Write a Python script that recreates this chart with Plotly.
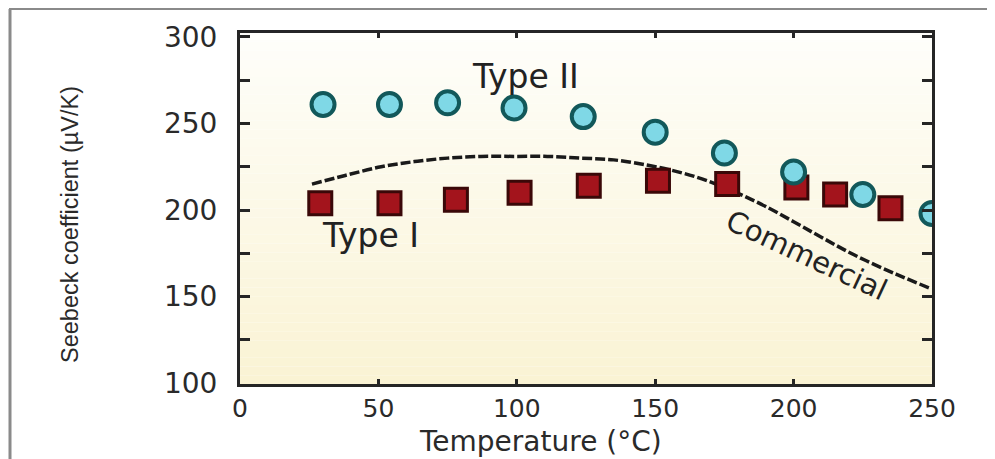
import plotly.graph_objects as go

# ---- data ----
type2_temp = [30, 54, 75, 99, 124, 150, 175, 200, 225, 250]
type2_seebeck = [261, 261, 262, 259, 254, 245, 233, 222, 209, 198]

type1_temp = [29, 54, 78, 101, 126, 151, 176, 201, 215, 235]
type1_seebeck = [204, 204, 206, 210, 214, 217, 215, 213, 209, 201]

commercial_temp = [26, 38, 51, 63, 75, 87, 99, 111, 123, 135, 147, 156, 165, 172, 178, 190, 207, 222, 237, 249]
commercial_seebeck = [215, 220, 225, 228, 230, 231, 231, 231, 230, 229, 226, 223, 219, 215, 211, 202, 187, 174, 163, 155]

x_ticks = [0, 50, 100, 150, 200, 250]
y_ticks = [100, 150, 200, 250, 300]

# page body has an 8px margin; plot area spans screen x 240..932, y 33..384
OFF = 8
PL, PR, PT, PB = 240, 932, 33, 384
PW, PH = PR - PL, PB - PT


def px(sx):
    return (sx - PL) / PW


def py(sy):
    return (PB - sy) / PH


fig = go.Figure()

# gradient plot background (white -> cream)
n = 40
top = (254, 254, 250)
bot = (250, 243, 212)
for i in range(n):
    f = i / (n - 1)
    c = tuple(round(top[k] + (bot[k] - top[k]) * f) for k in range(3))
    fig.add_shape(type="rect", xref="x domain", yref="y domain",
                  x0=0, x1=1, y0=1 - (i + 1) / n, y1=1 - i / n,
                  fillcolor="rgb(%d,%d,%d)" % c, line=dict(width=0), layer="below")

fig.add_trace(go.Scatter(
    x=commercial_temp, y=commercial_seebeck, mode="lines",
    line=dict(color="#1a1a1a", width=3.5, dash="10px,3px", shape="spline"),
    showlegend=False, hoverinfo="skip"))

fig.add_trace(go.Scatter(
    x=type1_temp, y=type1_seebeck, mode="markers",
    marker=dict(symbol="square", size=23, color="#a3141c",
                line=dict(color="#3a0808", width=3)),
    showlegend=False))

fig.add_trace(go.Scatter(
    x=type2_temp, y=type2_seebeck, mode="markers",
    marker=dict(symbol="circle", size=23, color="#7fd8e6",
                line=dict(color="#12585a", width=4)),
    showlegend=False))

tick_font = dict(family="DejaVu Sans", size=28, color="#2a2a2a")
xtick_font = dict(family="DejaVu Sans", size=25, color="#2a2a2a")
lab_font = dict(family="DejaVu Sans", size=33, color="#222222")

fig.update_xaxes(range=[0, 250], tickvals=x_ticks, ticktext=[str(v) for v in x_ticks],
                 showline=True, linewidth=3, linecolor="#252525", mirror="ticks",
                 ticks="inside", ticklen=5, tickwidth=3, tickcolor="#252525",
                 showgrid=False, zeroline=False, tickfont=xtick_font, ticklabelstandoff=0)
fig.update_yaxes(range=[99.5, 302.3], tickvals=y_ticks, ticktext=[str(v) for v in y_ticks],
                 showline=True, linewidth=3, linecolor="#252525", mirror="ticks",
                 ticks="inside", ticklen=10, tickwidth=3, tickcolor="#252525",
                 minor=dict(dtick=25, tick0=0, ticks="inside", ticklen=10, tickwidth=3,
                            tickcolor="#252525", showgrid=False),
                 showgrid=False, zeroline=False, tickfont=tick_font, ticklabelstandoff=14)

annos = [
    dict(text="Type II", x=103, y=277, xref="x", yref="y", showarrow=False, font=lab_font),
    dict(text="Type I", x=47, y=185.5, xref="x", yref="y", showarrow=False, font=lab_font),
    dict(text="Commercial", x=204.5, y=174, xref="x", yref="y", showarrow=False,
         textangle=25, font=dict(family="DejaVu Sans", size=29, color="#222222")),
    dict(text="Temperature (°C)", x=px(540), y=py(441),
         xref="paper", yref="paper", showarrow=False, yanchor="middle",
         font=dict(family="DejaVu Sans", size=28, color="#2a2a2a")),
    dict(text="Seebeck coefficient (µV/K)", x=px(70), y=py(225),
         xref="paper", yref="paper", showarrow=False, textangle=-90,
         xanchor="center", yanchor="middle",
         font=dict(family="Liberation Sans", size=23.5, color="#2a2a2a")),
]

# outer grey frame lines of the picture
fig.add_shape(type="line", xref="paper", yref="paper",
              x0=px(10), x1=px(10), y0=py(460), y1=py(9),
              line=dict(color="#8a8a8a", width=3))
fig.add_shape(type="line", xref="paper", yref="paper",
              x0=px(9), x1=px(996), y0=py(9), y1=py(9),
              line=dict(color="#8a8a8a", width=2))

fig.update_layout(width=995 - OFF, height=459 - OFF,
                  margin=dict(l=PL - OFF, r=995 - PR, t=PT - OFF, b=459 - PB),
                  paper_bgcolor="white", plot_bgcolor="white",
                  annotations=annos, showlegend=False)

fig.write_html("out.html")
